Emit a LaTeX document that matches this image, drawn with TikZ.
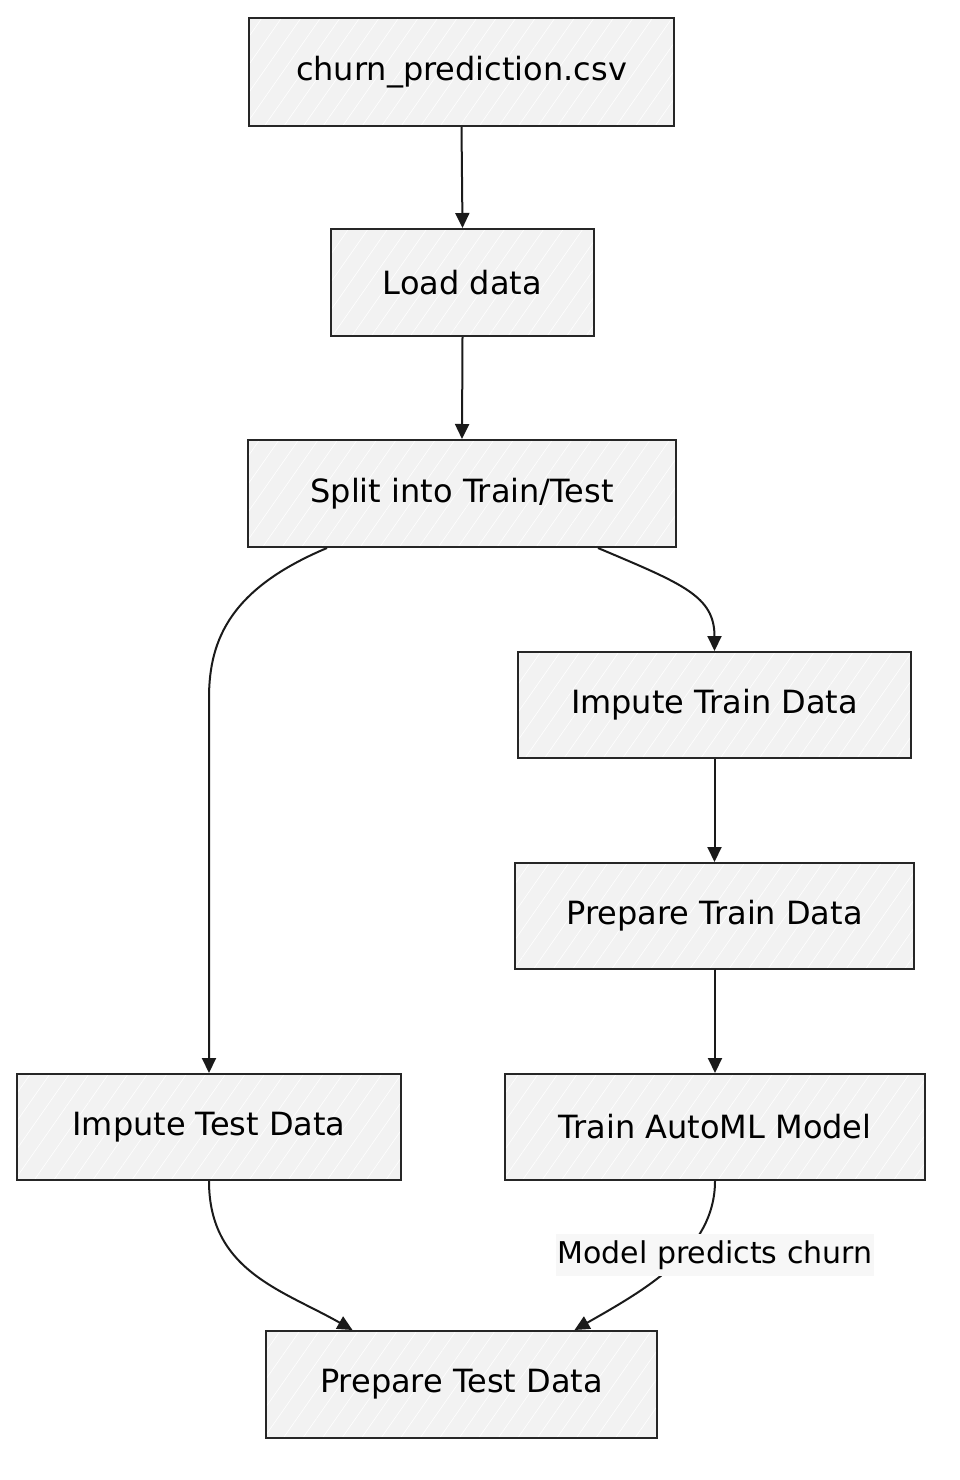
\documentclass[tikz,border=0pt]{standalone}
\usepackage{fontspec}
\setmainfont{DejaVu Sans}
\usetikzlibrary{arrows.meta,patterns.meta}
\definecolor{boxfill}{HTML}{F2F2F2}
\definecolor{edgecol}{HTML}{1A1A1A}
\definecolor{labelfill}{HTML}{F7F7F7}
\tikzset{
  box/.style={draw=black!85, line width=2pt,
    preaction={fill=boxfill},
    preaction={pattern={Lines[angle=55,distance=16pt,line width=0.6pt]}, pattern color=white},
    inner sep=0pt, font=\fontsize{32}{36}\selectfont},
  conn/.style={draw=edgecol, line width=2pt, -{Triangle[length=15pt,width=14pt]}},
  elabel/.style={fill=labelfill, inner xsep=2pt, inner ysep=6pt, font=\fontsize{30}{34}\selectfont}
}
\begin{document}
\begin{tikzpicture}[x=1pt,y=-1pt]
\useasboundingbox (0,0) rectangle (960,1480);
\node[box, minimum width=425pt, minimum height=108pt] (csv) at (461.5,72) {churn\_prediction.csv};
\node[box, minimum width=263pt, minimum height=107pt] (load) at (462.5,282.5) {Load data};
\node[box, minimum width=428pt, minimum height=107pt] (split) at (462,493.5) {Split into Train/Test};
\node[box, minimum width=393pt, minimum height=106pt] (imptrain) at (714.5,705) {Impute Train Data};
\node[box, minimum width=399pt, minimum height=106pt] (preptrain) at (714.5,916) {Prepare Train Data};
\node[box, minimum width=420pt, minimum height=106pt] (automl) at (715,1127) {Train AutoML Model};
\node[box, minimum width=384pt, minimum height=106pt] (imptest) at (209,1127) {Impute Test Data};
\node[box, minimum width=391pt, minimum height=107pt] (preptest) at (461.5,1384.5) {Prepare Test Data};

\draw[conn] (csv.south) -- (load.north);
\draw[conn] (load.south) -- (split.north);
\draw[conn] ([xshift=-135pt]split.south) .. controls +(-95,40) and +(0,-60) .. ([yshift=-150pt]split.south -| imptest.north) -- (imptest.north);
\draw[conn] ([xshift=136pt]split.south) .. controls +(85,36) and +(0,-55) .. (imptrain.north);
\draw[conn] (preptrain.north |- imptrain.south) -- (preptrain.north);
\draw[conn] (preptrain.south) -- (automl.north |- preptrain.south) -- (automl.north);
\draw[conn] (imptest.south) .. controls +(0,90) and +(-70,-40) .. ([xshift=-109pt]preptest.north);
\draw[conn] (automl.south) .. controls +(0,70) and +(70,-40) .. ([xshift=113pt]preptest.north);
\node[elabel] (lbl) at (715,1255) {Model predicts churn};
\end{tikzpicture}
\end{document}
